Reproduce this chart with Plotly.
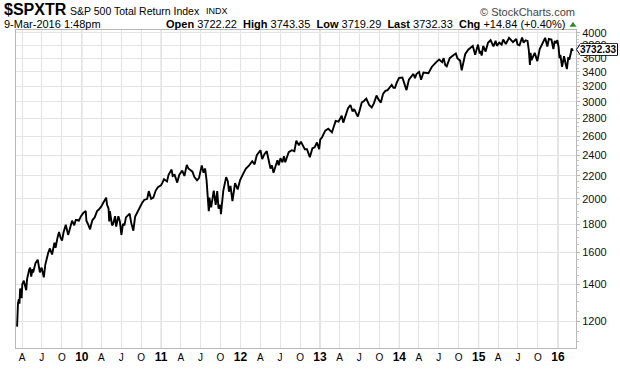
import math
import plotly.graph_objects as go

# ---------------- data ----------------
DATES = [
    "2009-03-09","2009-03-10","2009-03-13","2009-03-17","2009-03-20","2009-03-23","2009-03-30",
    "2009-04-02","2009-04-09","2009-04-20","2009-04-24","2009-05-04","2009-05-08","2009-05-13",
    "2009-05-19","2009-05-22","2009-06-02","2009-06-12","2009-06-22","2009-06-30","2009-07-07",
    "2009-07-10","2009-07-17","2009-07-24","2009-07-31","2009-08-07","2009-08-17","2009-08-28",
    "2009-09-02","2009-09-11","2009-09-18","2009-09-25","2009-10-02","2009-10-09","2009-10-19",
    "2009-10-30","2009-11-09","2009-11-17","2009-11-27","2009-12-04","2009-12-11","2009-12-18",
    "2009-12-28",
    "2010-01-08","2010-01-19","2010-01-22","2010-01-29","2010-02-08","2010-02-12","2010-02-19",
    "2010-03-01","2010-03-12","2010-03-19","2010-03-31","2010-04-09","2010-04-15","2010-04-23",
    "2010-04-27","2010-05-04","2010-05-06","2010-05-07","2010-05-10","2010-05-14","2010-05-20",
    "2010-05-25","2010-06-03","2010-06-08","2010-06-18","2010-06-25","2010-07-02","2010-07-09",
    "2010-07-16","2010-07-23","2010-08-09","2010-08-16","2010-08-26","2010-09-03","2010-09-13",
    "2010-09-24","2010-10-05","2010-10-15","2010-10-29","2010-11-05","2010-11-16","2010-11-26",
    "2010-12-07","2010-12-17","2010-12-31",
    "2011-01-07","2011-01-14","2011-01-28","2011-02-04","2011-02-18","2011-02-23","2011-03-04",
    "2011-03-16","2011-03-25","2011-04-08","2011-04-18","2011-04-29","2011-05-06","2011-05-13",
    "2011-05-25","2011-06-03","2011-06-15","2011-06-24","2011-07-07","2011-07-15","2011-07-22",
    "2011-07-29","2011-08-04","2011-08-08","2011-08-10","2011-08-11","2011-08-19","2011-08-31",
    "2011-09-09","2011-09-16","2011-09-22","2011-09-30","2011-10-03","2011-10-14","2011-10-27",
    "2011-11-04","2011-11-09","2011-11-16","2011-11-25","2011-12-07","2011-12-19","2011-12-30",
    "2012-01-13","2012-01-26","2012-02-10","2012-02-24","2012-03-06","2012-03-16","2012-04-02",
    "2012-04-10","2012-04-20","2012-05-01","2012-05-18","2012-05-25","2012-06-01","2012-06-19",
    "2012-06-25","2012-07-03","2012-07-12","2012-07-19","2012-07-25","2012-08-10","2012-08-24",
    "2012-09-05","2012-09-14","2012-09-26","2012-10-05","2012-10-23","2012-11-02","2012-11-15",
    "2012-11-27","2012-12-07","2012-12-18","2012-12-28",
    "2013-01-02","2013-01-11","2013-01-25","2013-02-08","2013-02-25","2013-03-08","2013-03-14",
    "2013-03-27","2013-04-11","2013-04-18","2013-04-30","2013-05-10","2013-05-21","2013-05-31",
    "2013-06-07","2013-06-24","2013-07-01","2013-07-12","2013-07-22","2013-08-02","2013-08-15",
    "2013-08-27","2013-09-06","2013-09-18","2013-09-27","2013-10-08","2013-10-18","2013-10-29",
    "2013-11-08","2013-11-27","2013-12-05","2013-12-12","2013-12-20","2013-12-31",
    "2014-01-15","2014-01-24","2014-02-03","2014-02-14","2014-02-28","2014-03-07","2014-03-14",
    "2014-03-21","2014-04-02","2014-04-11","2014-04-22","2014-05-07","2014-05-15","2014-05-30",
    "2014-06-09","2014-06-20","2014-07-03","2014-07-17","2014-07-24","2014-07-31","2014-08-07",
    "2014-08-21","2014-09-05","2014-09-18","2014-09-25","2014-10-08","2014-10-15","2014-10-23",
    "2014-10-31","2014-11-14","2014-11-28","2014-12-05","2014-12-16","2014-12-29",
    "2015-01-06","2015-01-09","2015-01-15","2015-01-22","2015-02-02","2015-02-13","2015-02-25",
    "2015-03-10","2015-03-20","2015-03-26","2015-04-06","2015-04-17","2015-04-24","2015-05-06",
    "2015-05-21","2015-06-08","2015-06-23","2015-06-29","2015-07-08","2015-07-20","2015-07-27",
    "2015-08-05","2015-08-14","2015-08-20","2015-08-25","2015-08-28","2015-09-01","2015-09-16",
    "2015-09-28","2015-10-09","2015-10-22","2015-11-03","2015-11-13","2015-11-20","2015-12-02",
    "2015-12-11","2015-12-17","2015-12-22","2015-12-29",
    "2016-01-04","2016-01-08","2016-01-12","2016-01-20","2016-01-29","2016-02-05","2016-02-11",
    "2016-02-17","2016-02-23","2016-03-01","2016-03-04","2016-03-08","2016-03-09",
]
VALUES = [
    1172, 1245, 1290, 1315, 1290, 1375, 1320,
    1400, 1420, 1365, 1430, 1490, 1500, 1445,
    1490, 1470, 1530, 1550, 1470, 1500, 1445,
    1440, 1520, 1570, 1600, 1625, 1585, 1665,
    1630, 1700, 1740, 1700, 1680, 1740, 1795,
    1720, 1790, 1825, 1790, 1830, 1830, 1825,
    1860,
    1885, 1900, 1825, 1800, 1760, 1790, 1830,
    1850, 1900, 1910, 1935, 1965, 1990, 2010,
    1950, 1920, 1850, 1820, 1900, 1860, 1790,
    1800, 1860, 1780, 1860, 1820, 1720, 1800,
    1790, 1850, 1880, 1810, 1750, 1855, 1890,
    1935, 1965, 1990, 2000, 2065, 2000, 2010,
    2070, 2100, 2115,
    2140, 2170, 2150, 2210, 2260, 2200, 2210,
    2140, 2210, 2250, 2200, 2305, 2270, 2260,
    2240, 2190, 2160, 2180, 2300, 2230, 2270,
    2160, 1990, 1900, 1930, 2010, 1930, 2070,
    1950, 2065, 1920, 1950, 1875, 2070, 2190,
    2150, 2060, 2110, 1980, 2135, 2080, 2160,
    2220, 2270, 2300, 2340, 2310, 2400, 2450,
    2360, 2410, 2440, 2270, 2300, 2230, 2350,
    2300, 2370, 2330, 2390, 2330, 2430, 2450,
    2440, 2550, 2500, 2540, 2460, 2460, 2380,
    2470, 2480, 2530, 2460,
    2560, 2590, 2660, 2680, 2640, 2740, 2770,
    2760, 2830, 2750, 2840, 2920, 2960, 2880,
    2910, 2820, 2880, 2990, 3010, 3040, 2960,
    2930, 2980, 3080, 3030, 2990, 3100, 3140,
    3150, 3220, 3180, 3180, 3250, 3316,
    3320, 3230, 3150, 3290, 3345, 3370, 3310,
    3370, 3400, 3290, 3390, 3390, 3380, 3470,
    3510, 3540, 3580, 3540, 3600, 3500, 3480,
    3600, 3640, 3670, 3600, 3560, 3420, 3560,
    3660, 3730, 3780, 3790, 3650, 3810,
    3670, 3710, 3640, 3790, 3700, 3840, 3880,
    3780, 3870, 3790, 3840, 3810, 3890, 3820,
    3920, 3850, 3900, 3810, 3800, 3925, 3840,
    3880, 3870, 3720, 3500, 3680, 3570, 3680,
    3555, 3740, 3830, 3920, 3780, 3900, 3890,
    3740, 3870, 3830, 3880,
    3770, 3600, 3650, 3470, 3630, 3520, 3440,
    3600, 3590, 3690, 3750, 3710, 3732.33,
]

Y_TICKS = [1200, 1400, 1600, 1800, 2000, 2200, 2400, 2600, 2800, 3000, 3200, 3400, 3600, 3800, 4000]
Y_MINOR = [1100, 1150, 1250, 1300, 1350, 1450, 1500, 1550, 1650, 1700, 1750, 1850, 1900, 1950,
           2050, 2100, 2150, 2250, 2300, 2350, 2450, 2500, 2550, 2650, 2700, 2750, 2850, 2900,
           2950, 3050, 3100, 3150, 3250, 3300, 3350, 3450, 3500, 3550, 3650, 3700, 3750, 3850,
           3900, 3950]

X_TICKS = ["2009-04-01","2009-07-01","2009-10-01","2010-01-01","2010-04-01","2010-07-01","2010-10-01",
           "2011-01-01","2011-04-01","2011-07-01","2011-10-01","2012-01-01","2012-04-01","2012-07-01",
           "2012-10-01","2013-01-01","2013-04-01","2013-07-01","2013-10-01","2014-01-01","2014-04-01",
           "2014-07-01","2014-10-01","2015-01-01","2015-04-01","2015-07-01","2015-10-01","2016-01-01"]
X_LABELS = ["A","J","O","10","A","J","O","11","A","J","O","12","A","J","O","13","A","J","O","14",
            "A","J","O","15","A","J","O","16"]
YEAR_TICKS = ["2010-01-01","2011-01-01","2012-01-01","2013-01-01","2014-01-01","2015-01-01","2016-01-01"]

TICKER = "$SPXTR"
NAME = "S&amp;P 500 Total Return Index"
EXCH = "INDX"
STAMP = "9-Mar-2016 1:48pm"
OPEN, HIGH, LOW, LAST = "3722.22", "3743.35", "3719.29", "3732.33"
CHG, CHG_PCT = "+14.84", "+0.40%"

# ---------------- layout geometry ----------------
W, H = 620, 376
ML, MR, MT, MB = 16, 44, 30, 17
PW, PH = W - ML - MR, H - MT - MB
Y_RANGE = [3.0302, 3.6074]
FONT = "Liberation Sans, Arial, sans-serif"


def px(x):
    return (x - ML) / PW


def py(y):
    return (H - MB - y) / PH


def poly(points):
    return "M " + " L ".join("%.4f,%.4f" % (px(a), py(b)) for a, b in points) + " Z"


ticktext = []
for lab in X_LABELS:
    if lab.isdigit():
        ticktext.append('<b><span style="font-size:12px">%s</span></b>' % lab)
    else:
        ticktext.append(lab)

fig = go.Figure()
fig.add_trace(go.Scatter(
    x=DATES, y=VALUES, mode="lines",
    line=dict(color="#000000", width=1.9),
    hoverinfo="skip",
))

shapes = []
for d in YEAR_TICKS:
    shapes.append(dict(type="line", xref="x", yref="paper", x0=d, x1=d, y0=0, y1=1,
                       line=dict(color="#c6c6c6", width=1), layer="below"))

# last-value callout (tag shape) and green "up" triangle
last_log = math.log10(VALUES[-1])
ly = MT + (Y_RANGE[1] - last_log) / (Y_RANGE[1] - Y_RANGE[0]) * PH
shapes.append(dict(type="path", xref="paper", yref="paper",
                   path=poly([(576.5, ly), (580.5, ly - 6), (617.5, ly - 6), (617.5, ly + 6), (580.5, ly + 6)]),
                   fillcolor="white", line=dict(color="black", width=1), layer="above"))
shapes.append(dict(type="path", xref="paper", yref="paper",
                   path=poly([(569.5, 26.5), (576.5, 26.5), (573, 21.5)]),
                   fillcolor="#2e8b2e", line=dict(width=0), layer="above"))

annotations = [
    dict(x=px(2), y=py(9), xref="paper", yref="paper", xanchor="left", yanchor="middle",
         showarrow=False, text="<b>%s</b>" % TICKER,
         font=dict(family=FONT, size=16, color="black")),
    dict(x=px(68), y=py(10), xref="paper", yref="paper", xanchor="left", yanchor="middle",
         showarrow=False, text=NAME, font=dict(family=FONT, size=10.5, color="black")),
    dict(x=px(204), y=py(10.5), xref="paper", yref="paper", xanchor="left", yanchor="middle",
         showarrow=False, text=EXCH, font=dict(family=FONT, size=9, color="black")),
    dict(x=px(2), y=py(24), xref="paper", yref="paper", xanchor="left", yanchor="middle",
         showarrow=False, text=STAMP, font=dict(family=FONT, size=11, color="black")),
    dict(x=px(567), y=py(24), xref="paper", yref="paper", xanchor="right", yanchor="middle",
         showarrow=False,
         text=("<b>Open</b> %s  <b>High</b> %s  <b>Low</b> %s  <b>Last</b> %s  <b>Chg</b> %s (%s)")
         % (OPEN, HIGH, LOW, LAST, CHG, CHG_PCT),
         font=dict(family=FONT, size=11, color="black")),
    dict(x=px(577), y=py(11), xref="paper", yref="paper", xanchor="right", yanchor="middle",
         showarrow=False, text="© StockCharts.com",
         font=dict(family=FONT, size=11, color="#444444")),
    dict(x=px(616.5), y=py(ly), xref="paper", yref="paper", xanchor="right", yanchor="middle",
         showarrow=False, text="<b>%s</b>" % LAST, bgcolor="white", borderpad=0, borderwidth=0,
         font=dict(family=FONT, size=10, color="black")),
]

fig.update_layout(
    width=W, height=H,
    margin=dict(l=ML, r=MR, t=MT, b=MB, pad=0),
    paper_bgcolor="white", plot_bgcolor="white",
    showlegend=False,
    shapes=shapes, annotations=annotations,
    xaxis=dict(
        type="date", range=["2009-03-04", "2016-03-24"],
        tickmode="array", tickvals=X_TICKS, ticktext=ticktext,
        tickfont=dict(family=FONT, size=10, color="black"),
        showgrid=True, gridcolor="#e4e4e4", gridwidth=1,
        showline=True, linecolor="#b8b8b8", linewidth=1, mirror=True,
        ticks="", zeroline=False, fixedrange=True,
    ),
    yaxis=dict(
        type="log", side="right", range=Y_RANGE,
        tickmode="array", tickvals=Y_TICKS, ticktext=[str(v) for v in Y_TICKS],
        tickfont=dict(family=FONT, size=11, color="#111111"),
        showgrid=True, gridcolor="#e4e4e4", gridwidth=1,
        showline=True, linecolor="#b8b8b8", linewidth=1, mirror=True,
        ticks="outside", ticklen=3, tickcolor="#b8b8b8",
        minor=dict(tickvals=Y_MINOR, ticks="outside", ticklen=2, tickcolor="#c8c8c8", showgrid=False),
        zeroline=False, fixedrange=True,
    ),
)

fig.write_html("out.html", config={"displayModeBar": False},
               post_script="document.body.style.margin='0px';document.body.style.overflow='hidden';")
